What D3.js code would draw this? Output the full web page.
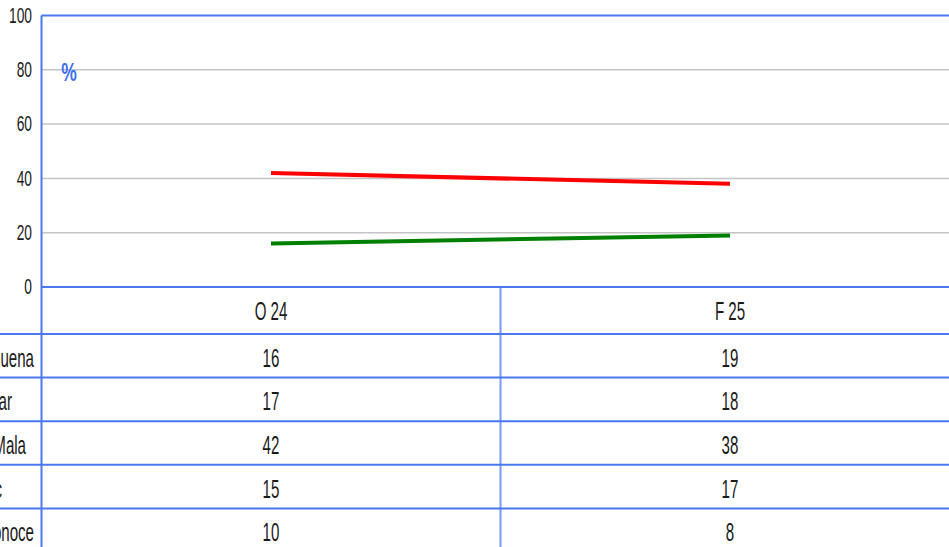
<!DOCTYPE html>
<html>
<head>
<meta charset="utf-8">
<script src="https://cdn.jsdelivr.net/npm/d3@7"></script>
<style>
  body { margin: 0; background: #fff; overflow: hidden; }
  svg { display: block; font-family: "Liberation Sans", Arial, sans-serif; }
</style>
</head>
<body>
<svg id="chart"></svg>
<script>
// data
const periods = ["O 24", "F 25"];
const rowLabels = ["Buena", "Regular", "Mala", "Ns/Nc", "No conoce"];
const buena = [16, 19];
const regular = [17, 18];
const mala = [42, 38];
const nsnc = [15, 17];
const noConoce = [10, 8];
const yTicks = [0, 20, 40, 60, 80, 100];

const tableRows = [buena, regular, mala, nsnc, noConoce];
// only these two series are drawn as lines
const lineSeries = [
  {name: "Buena", values: buena, color: "#008000"},
  {name: "Mala", values: mala, color: "#ff0000"}
];

const width = 949;
const height = 547;
const blue = "#4a78f0";

// layout
const plot = {left: 41.5, right: 959.5, top: 15.5, bottom: 287};
const headerH = 47;
const rowH = 43.6;
const labelRight = [34, 12, 26, 2, 34];   // row labels are cut off by the window edge

const svg = d3.select("#chart")
  .attr("width", width)
  .attr("height", height);

const xscale = d3.scaleBand().domain(periods).range([plot.left, plot.right]);
const yscale = d3.scaleLinear().domain([0, 100]).range([plot.bottom, plot.top]);

// squeezed text like the original narrow font
function narrowText(g, x, y, str, size, sx, anchor, color) {
  return g.append("text")
    .attr("transform", `translate(${x},${y}) scale(${sx},1)`)
    .attr("text-anchor", anchor)
    .attr("dominant-baseline", "central")
    .attr("font-size", size)
    .attr("fill", color || "#1a1a1a")
    .text(str);
}

// gridlines
svg.append("g")
  .selectAll("line")
  .data(yTicks.filter(d => d > 0 && d < 100))
  .join("line")
  .attr("x1", plot.left).attr("x2", width)
  .attr("y1", d => yscale(d)).attr("y2", d => yscale(d))
  .attr("stroke", "#c4c4c4")
  .attr("stroke-width", 1.5);

// y tick labels
const gy = svg.append("g");
yTicks.forEach(t => narrowText(gy, 32, yscale(t), t, 21.5, 0.64, "end"));

// "%" unit label
narrowText(svg, 69, 72, "%", 25, 0.7, "middle", "#3d6ff2")
  .attr("font-weight", "bold");

// lines
const line = d3.line()
  .x((d, i) => xscale(periods[i]) + xscale.bandwidth() / 2)
  .y(d => yscale(d));

svg.append("g")
  .selectAll("path")
  .data(lineSeries)
  .join("path")
  .attr("d", d => line(d.values))
  .attr("fill", "none")
  .attr("stroke", d => d.color)
  .attr("stroke-width", 4);

// data table
const tbl = svg.append("g");
const rowTop = i => plot.bottom + headerH + i * rowH;

// horizontal rules
const hLines = d3.range(tableRows.length + 1).map(i => rowTop(i));
tbl.selectAll("line.h")
  .data(hLines)
  .join("line")
  .attr("class", "h")
  .attr("x1", 0).attr("x2", width)
  .attr("y1", d => d).attr("y2", d => d)
  .attr("stroke", blue)
  .attr("stroke-width", 2);

// column divider
tbl.append("line")
  .attr("x1", xscale(periods[1])).attr("x2", xscale(periods[1]))
  .attr("y1", plot.bottom).attr("y2", height)
  .attr("stroke", blue).attr("stroke-opacity", 0.75)
  .attr("stroke-width", 2);

// header labels
periods.forEach(p => {
  narrowText(tbl, xscale(p) + xscale.bandwidth() / 2, plot.bottom + headerH / 2 + 1, p, 26, 0.58, "middle");
});

// cell values and row labels
tableRows.forEach((vals, r) => {
  const cy = rowTop(r) + rowH / 2 + 2.5;
  narrowText(tbl, labelRight[r], cy, rowLabels[r], 26, 0.58, "end");
  vals.forEach((v, c) => {
    narrowText(tbl, xscale(periods[c]) + xscale.bandwidth() / 2, cy, v, 26, 0.58, "middle");
  });
});

// plot frame: top, left and the zero axis
svg.append("line")
  .attr("x1", plot.left).attr("x2", width)
  .attr("y1", plot.top).attr("y2", plot.top)
  .attr("stroke", blue).attr("stroke-width", 2);
svg.append("line")
  .attr("x1", plot.left).attr("x2", width)
  .attr("y1", yscale(0)).attr("y2", yscale(0))
  .attr("stroke", blue).attr("stroke-width", 2);
svg.append("line")
  .attr("x1", plot.left).attr("x2", plot.left)
  .attr("y1", plot.top).attr("y2", height)
  .attr("stroke", blue).attr("stroke-width", 2);
</script>
</body>
</html>
